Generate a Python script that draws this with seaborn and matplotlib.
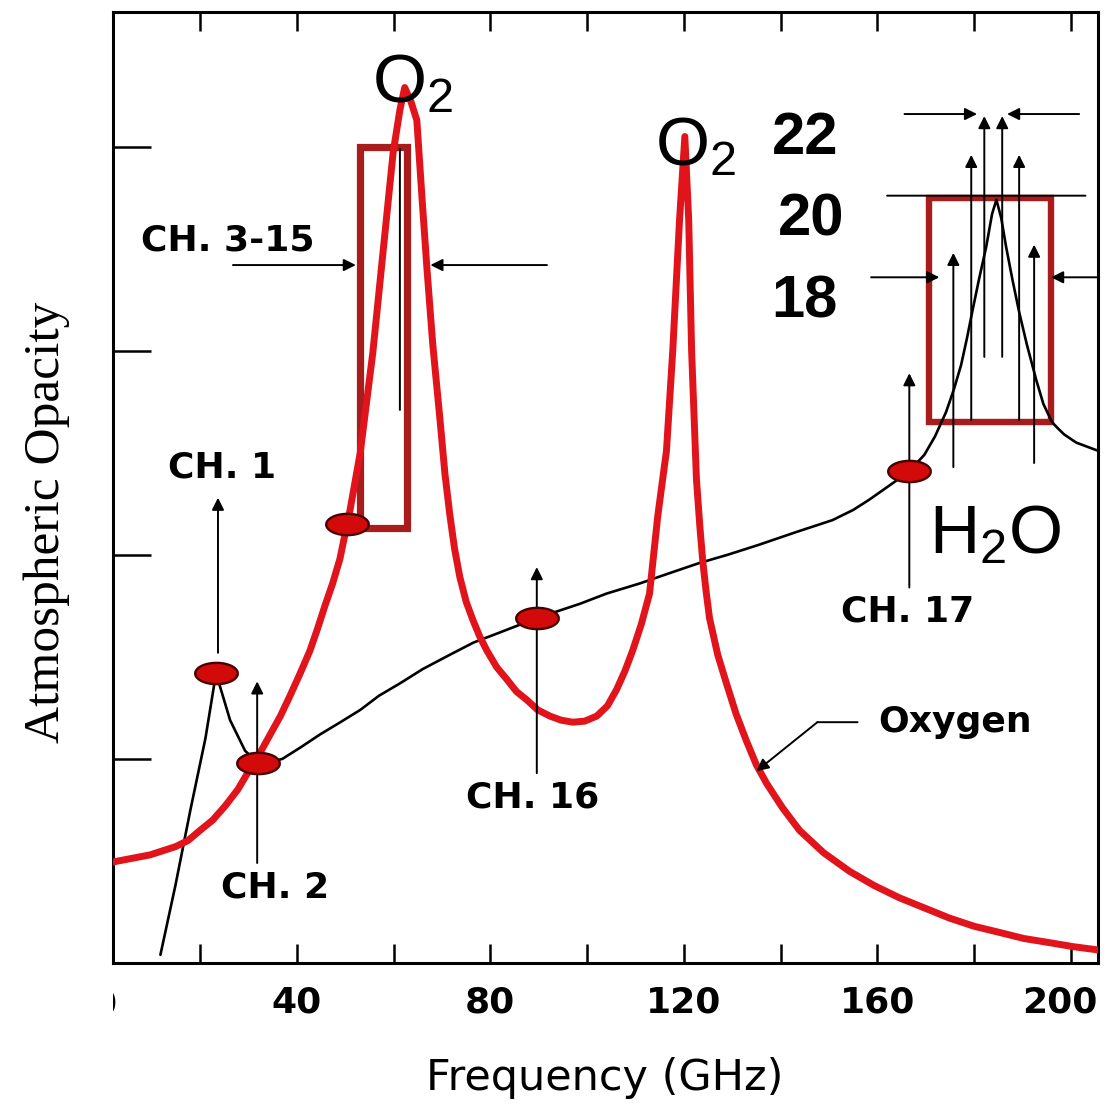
import numpy as np
import pandas as pd
import seaborn as sns
import matplotlib
matplotlib.use("Agg")
import matplotlib.pyplot as plt
from matplotlib.path import Path
from matplotlib.patches import Rectangle
from matplotlib.ticker import MultipleLocator
from matplotlib.transforms import Bbox, TransformedBbox, ScaledTranslation

# ---------------------------------------------------------------- data
# Oxygen absorption (red curve): frequency in GHz, opacity in arbitrary units
oxygen_freq = [2.0, 9.7, 14.9, 17.5, 20.0, 22.6, 25.2, 27.8, 30.3, 32.4,
               34.5, 36.6, 38.6, 40.7, 42.7, 44.3, 45.8, 47.4, 48.9, 51.0,
               53.1, 55.7, 57.8, 59.9, 61.3, 62.3, 63.6, 64.8, 65.9, 66.9,
               68.1, 69.6, 70.6, 71.6, 72.6, 73.7, 75.0, 76.4, 77.8, 79.3, 81.3,
               83.4, 85.4, 87.5, 89.8, 92.3, 94.6, 97.0, 99.5, 102.0, 104.2,
               106.1, 107.8, 109.4, 111.2, 112.9, 114.6, 116.4, 117.7, 119.1, 120.2,
               121.0, 121.6, 122.6, 123.3, 123.9, 124.6, 125.3, 127.0, 128.8, 130.8, 132.9,
               135.0, 137.1, 140.4, 143.9, 148.9, 154.2, 159.3, 164.5, 169.7, 174.9,
               180.0, 185.2, 190.3, 195.5, 200.5, 205.6]
oxygen_opacity = [0.495, 0.53, 0.57, 0.60, 0.65, 0.70, 0.77, 0.85, 0.95, 1.03,
                  1.12, 1.21, 1.31, 1.42, 1.53, 1.64, 1.75, 1.86, 1.98, 2.22,
                  2.50, 2.99, 3.48, 3.97, 4.18, 4.29, 4.22, 4.13, 3.74, 3.40,
                  3.03, 2.66, 2.40, 2.20, 2.03, 1.89, 1.77, 1.68, 1.60, 1.53, 1.45,
                  1.39, 1.33, 1.29, 1.24, 1.21, 1.19, 1.18, 1.185, 1.21, 1.26,
                  1.34, 1.43, 1.53, 1.66, 1.81, 2.19, 2.51, 3.00, 3.64, 4.05,
                  3.64, 3.00, 2.37, 2.14, 1.97, 1.82, 1.69, 1.51, 1.37, 1.22, 1.09,
                  0.97, 0.88, 0.76, 0.65, 0.54, 0.45, 0.38, 0.32, 0.27, 0.22,
                  0.18, 0.15, 0.12, 0.10, 0.08, 0.064]

# Water vapour absorption (black curve)
vapor_freq = [11.8, 14.9, 18.0, 21.1, 23.3, 26.2, 29.3, 32.0, 34.5, 37.0, 41.0,
              44.8, 49.0, 53.1, 57.0, 61.3, 66.0, 71.6, 76.5, 82.0, 89.6,
              98.5, 104.0, 110.9, 117.0, 123.2, 129.0, 135.6, 143.0, 150.7, 155.0,
              158.3, 163.1, 166.6, 169.7, 171.9, 174.2, 175.8, 177.3, 178.5, 179.6,
              181.0, 182.5, 183.7, 184.6, 185.6, 186.6, 187.9, 189.3, 190.9, 192.8,
              194.3, 196.1, 197.3, 198.6, 201.1, 205.6]
vapor_opacity = [0.04, 0.38, 0.75, 1.10, 1.42, 1.19, 1.04, 0.98, 0.985, 1.00, 1.06,
                 1.12, 1.18, 1.24, 1.31, 1.37, 1.44, 1.51, 1.57, 1.62, 1.69,
                 1.76, 1.81, 1.86, 1.91, 1.96, 2.00, 2.05, 2.11, 2.17, 2.22,
                 2.27, 2.35, 2.41, 2.49, 2.58, 2.70, 2.81, 2.93, 3.06, 3.19,
                 3.35, 3.51, 3.67, 3.74, 3.65, 3.51, 3.35, 3.19, 3.03, 2.86,
                 2.74, 2.65, 2.62, 2.59, 2.55, 2.51]

# Radiometer channels sitting on the curves
channel_freq = [23.3, 32.0, 50.4, 89.6, 166.6]
channel_opacity = [1.42, 0.98, 2.15, 1.69, 2.41]

x_ticks = [40, 80, 120, 160, 200]
x_tick_labels = ["40", "80", "120", "160", "200"]

# ---------------------------------------------------------------- style
sns.set_style("white")
plt.rcParams["font.family"] = ["DejaVu Sans"]
plt.rcParams["text.color"] = "black"
plt.rcParams["axes.labelcolor"] = "black"
plt.rcParams["xtick.color"] = "black"
plt.rcParams["ytick.color"] = "black"

RED = "#e0141a"
BOX = "#a81c1c"
DOT = "#d20a0a"
DOT_EDGE = "#4a0000"

W, H = 1105, 1117
fig = plt.figure(figsize=(W / 100, H / 100), dpi=100)
ax = fig.add_axes([113 / W, (H - 963) / H, (1098 - 113) / W, (963 - 12) / H])
ax.set_xlim(2.0, 205.6)
ax.set_ylim(0, 4.66)

# band boxes
ax.add_patch(Rectangle((53.1, 2.13), 9.7, 1.87, fill=False, ec=BOX, lw=5.2, zorder=2))
ax.add_patch(Rectangle((170.7, 2.65), 25.2, 1.10, fill=False, ec=BOX, lw=4.6, zorder=2))

# curves
sns.lineplot(x=vapor_freq, y=vapor_opacity, sort=False, estimator=None,
             color="black", lw=1.9, ax=ax, zorder=3)
sns.lineplot(x=oxygen_freq, y=oxygen_opacity, sort=False, estimator=None,
             color=RED, lw=5.0, ax=ax, zorder=4,
             solid_joinstyle="round", solid_capstyle="round")

# arrows and leader lines
arrow_kw = dict(arrowstyle="-|>", color="black", lw=1.4, mutation_scale=18,
                shrinkA=0, shrinkB=0)
line_kw = dict(arrowstyle="-", color="black", lw=1.4, shrinkA=0, shrinkB=0)


def arrow(x0, y0, x1, y1, kw=arrow_kw):
    ax.annotate("", xy=(x1, y1), xytext=(x0, y0), arrowprops=kw, zorder=5)


arrow(23.7, 1.52, 23.7, 2.28)         # CH. 1
arrow(31.8, 0.49, 31.8, 1.38)         # CH. 2
arrow(26.8, 3.42, 52.2, 3.42)         # CH. 3-15 from the left
arrow(91.7, 3.42, 67.6, 3.42)         # CH. 3-15 from the right
arrow(61.3, 2.71, 61.3, 3.99, line_kw)
arrow(89.6, 0.93, 89.6, 1.94)         # CH. 16
arrow(166.6, 1.84, 166.6, 2.89)       # CH. 17

# water-line channel arrows
arrow(175.7, 2.43, 175.7, 3.48)
arrow(179.4, 2.66, 179.4, 3.96)
arrow(182.1, 2.97, 182.1, 4.15)
arrow(185.8, 2.97, 185.8, 4.15)
arrow(189.3, 2.66, 189.3, 3.96)
arrow(192.4, 2.45, 192.4, 3.52)
arrow(165.6, 4.16, 180.6, 4.16)
arrow(201.7, 4.16, 186.8, 4.16)
arrow(162.0, 3.76, 203.0, 3.76, line_kw)
arrow(158.7, 3.36, 172.8, 3.36)
arrow(205.6, 3.36, 195.9, 3.36)

# "Oxygen" leader
arrow(155.9, 1.18, 147.6, 1.18, line_kw)
arrow(147.6, 1.18, 135.0, 0.94)

# channel markers (flat ellipses)
t = np.linspace(0, 2 * np.pi, 80)
ellipse = Path(np.column_stack([np.cos(t), 0.5 * np.sin(t)]))
sns.scatterplot(x=channel_freq, y=channel_opacity, marker=ellipse, s=940,
                color=DOT, edgecolor=DOT_EDGE, linewidth=1.7, ax=ax, zorder=6)

# ---------------------------------------------------------------- text
lab = dict(fontsize=26, fontweight="bold", ha="center", va="center",
           family=["DejaVu Sans"], zorder=7)
ax.text(24.6, 2.43, "CH. 1", **lab)
ax.text(35.5, 0.37, "CH. 2", **lab)
ax.text(25.8, 3.54, "CH. 3-15", **lab)
ax.text(88.8, 0.81, "CH. 16", **lab)
ax.text(166.2, 1.72, "CH. 17", **lab)
ax.text(176.1, 1.18, "Oxygen", **lab)

num = dict(fontsize=43, fontweight="bold", ha="center", va="center",
           family=["Liberation Sans"], zorder=7)
ax.text(145.1, 4.04, "22", **num)
ax.text(146.2, 3.64, "20", **num)
ax.text(144.9, 3.24, "18", **num)

mol = dict(fontsize=50, ha="left", va="baseline", family=["Liberation Sans"], zorder=7)
ax.text(55.6, 4.22, r"$\mathregular{O_2}$", **mol)
ax.text(114.0, 3.91, r"$\mathregular{O_2}$", **mol)
ax.text(170.6, 2.01, r"$\mathregular{H_2O}$", **mol)

# ---------------------------------------------------------------- axes
ax.set_xticks(x_ticks)
ax.set_xticklabels(x_tick_labels)
ax.xaxis.set_minor_locator(MultipleLocator(20))
ax.set_yticks([1, 2, 3, 4])
ax.tick_params(axis="x", which="both", direction="in", length=14, width=1.8,
               top=True, bottom=True, pad=16, labelsize=26, color="black",
               labelcolor="black")
ax.tick_params(axis="y", which="both", direction="in", length=27, width=1.8,
               left=True, right=False, labelleft=False, color="black")
for lbl in ax.get_xticklabels():
    lbl.set_fontweight("bold")

# keep the last frequency label inside the canvas
last = ax.xaxis.get_major_ticks()[-1].label1
last.set_transform(last.get_transform() + ScaledTranslation(-11 / 100, 0, fig.dpi_scale_trans))

for side in ["left", "right", "top", "bottom"]:
    ax.spines[side].set_visible(True)
    ax.spines[side].set_color("black")
    ax.spines[side].set_linewidth(2.2)

ax.set_xlabel("Frequency (GHz)", fontsize=31, family=["DejaVu Sans"])
ax.xaxis.set_label_coords(0.4995, -0.099)
ax.set_ylabel("Atmospheric Opacity", fontsize=37, family=["Liberation Serif"])
ax.yaxis.set_label_coords(-0.0437, 0.4637)

# the origin label sits just outside the frame and shows only its edge
clip = TransformedBbox(Bbox([[0, -1], [1, 1]]), ax.transAxes)
zero = ax.text(0, -0.0255, "0", transform=ax.get_xaxis_transform(),
               ha="center", va="top", fontsize=26, fontweight="bold")
zero.set_clip_path(None)
zero.set_clip_box(clip)
zero.set_clip_on(True)

fig.savefig("out.png", dpi=100)
